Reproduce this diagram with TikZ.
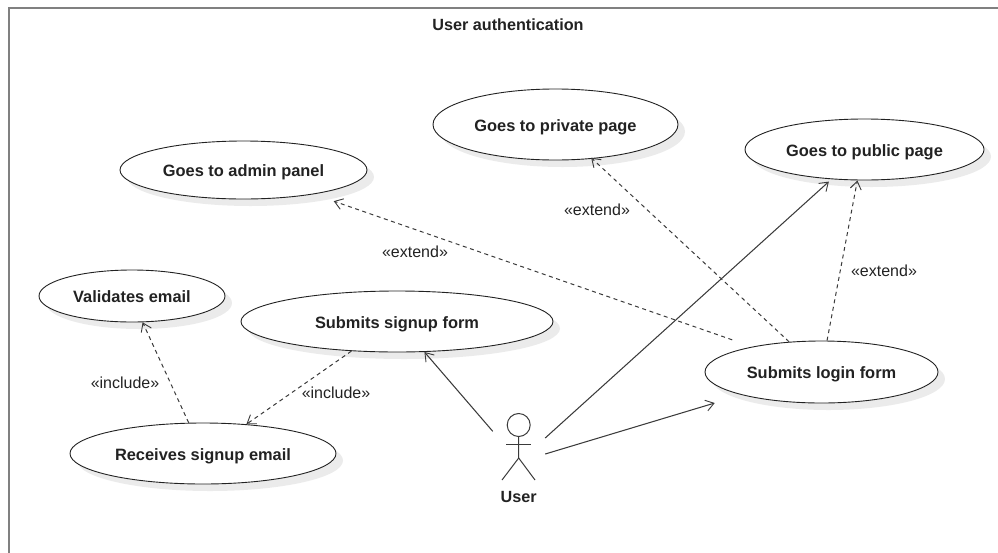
\documentclass[tikz,border=0pt]{standalone}
\usepackage{fontspec}
\setmainfont{Liberation Sans}
\usetikzlibrary{shapes.geometric,arrows.meta,shadows}
\definecolor{ink}{HTML}{222222}
\definecolor{edgeink}{HTML}{3A3A3A}
\tikzset{
  x=1pt,y=-1pt,
  usecase/.style={ellipse,draw=ink,line width=0.9pt,fill=white,inner sep=0pt,
    font=\fontsize{16.4}{18}\bfseries\selectfont,text=ink,text height=13pt,text depth=0pt,
    drop shadow={shadow xshift=7pt,shadow yshift=-7pt,fill=black!8,opacity=1}},
  titletext/.style={font=\fontsize{16.2}{18}\bfseries\selectfont,text=ink},
  stereo/.style={font=\fontsize{16}{18}\selectfont,text=ink},
  frameline/.style={draw=black!50,line width=2pt},
  assoc/.style={draw=edgeink,line width=1.05pt,-{Straight Barb[length=8pt,width=11pt,line width=0.9pt]}},
  dep/.style={draw=edgeink,line width=1pt,dash pattern=on 4pt off 3.6pt,-{Straight Barb[length=8pt,width=11pt,line width=0.9pt]}},
  stick/.style={draw=edgeink,line width=1pt},
}
\begin{document}
\begin{tikzpicture}
\useasboundingbox (0,0) rectangle (998,552);
\coordinate (corner) at (9,8);
\coordinate (fbottom) at (9,552);
\coordinate (fright) at (998,8);
\draw[frameline,line cap=rect] (fbottom) -- (corner) -- (fright);
\node[titletext] (title) at (508,25) {User authentication};
% use cases
\node[usecase,minimum width=186pt,minimum height=52pt] (validates) at (132,296) {Validates email};
\node[usecase,minimum width=266pt,minimum height=61pt] (receives) at (203,453.5) {Receives signup email};
\node[usecase,minimum width=312pt,minimum height=61pt] (signup) at (397,321.5) {Submits signup form};
\node[usecase,minimum width=247pt,minimum height=58pt] (admin) at (243.5,170) {Goes to admin panel};
\node[usecase,minimum width=245pt,minimum height=71pt] (private) at (555.5,124.5) {Goes to private page};
\node[usecase,minimum width=239pt,minimum height=61pt] (public) at (864.5,149.5) {Goes to public page};
\node[usecase,minimum width=233pt,minimum height=62pt] (login) at (821.5,372) {Submits login form};
% actor
\node[minimum width=52pt,minimum height=67pt,inner sep=0pt] (actor) at (519,446.5) {};
\draw[stick] (518.7,425) circle (11.5);
\draw[stick] (518.7,436.5) -- (518.7,458) -- (502,480);
\draw[stick] (518.7,458) -- (535,480);
\draw[stick] (506,444) -- (531,444);
\node[titletext] (username) at (518.7,497) {User};
% connectors
\draw[dep] (receives.115.5) -- (validates.-68.6);
\draw[dep] (signup.213) -- (receives.34.1);
\draw[dep,shorten <=21pt,shorten >=21pt] (login.160.3) -- (admin.-19.1);
\draw[dep,shorten >=-1.5pt] (login.137.2) -- (private.-43.5);
\draw[dep] (login.80) -- (public.-103.4);
\draw[assoc] (actor.150.9) -- (signup.-48.5);
\draw[assoc,shorten >=3.5pt] (actor.18.1) -- (public.222.5);
\draw[assoc,shorten >=28pt] (actor.-16.1) -- (login.196.7);
% labels
\node[stereo] (l1) at (415,252) {«extend»};
\node[stereo] (l2) at (597,210) {«extend»};
\node[stereo] (l3) at (884,271) {«extend»};
\node[stereo] (l4) at (125,383) {«include»};
\node[stereo] (l5) at (336,393) {«include»};
\end{tikzpicture}
\end{document}
